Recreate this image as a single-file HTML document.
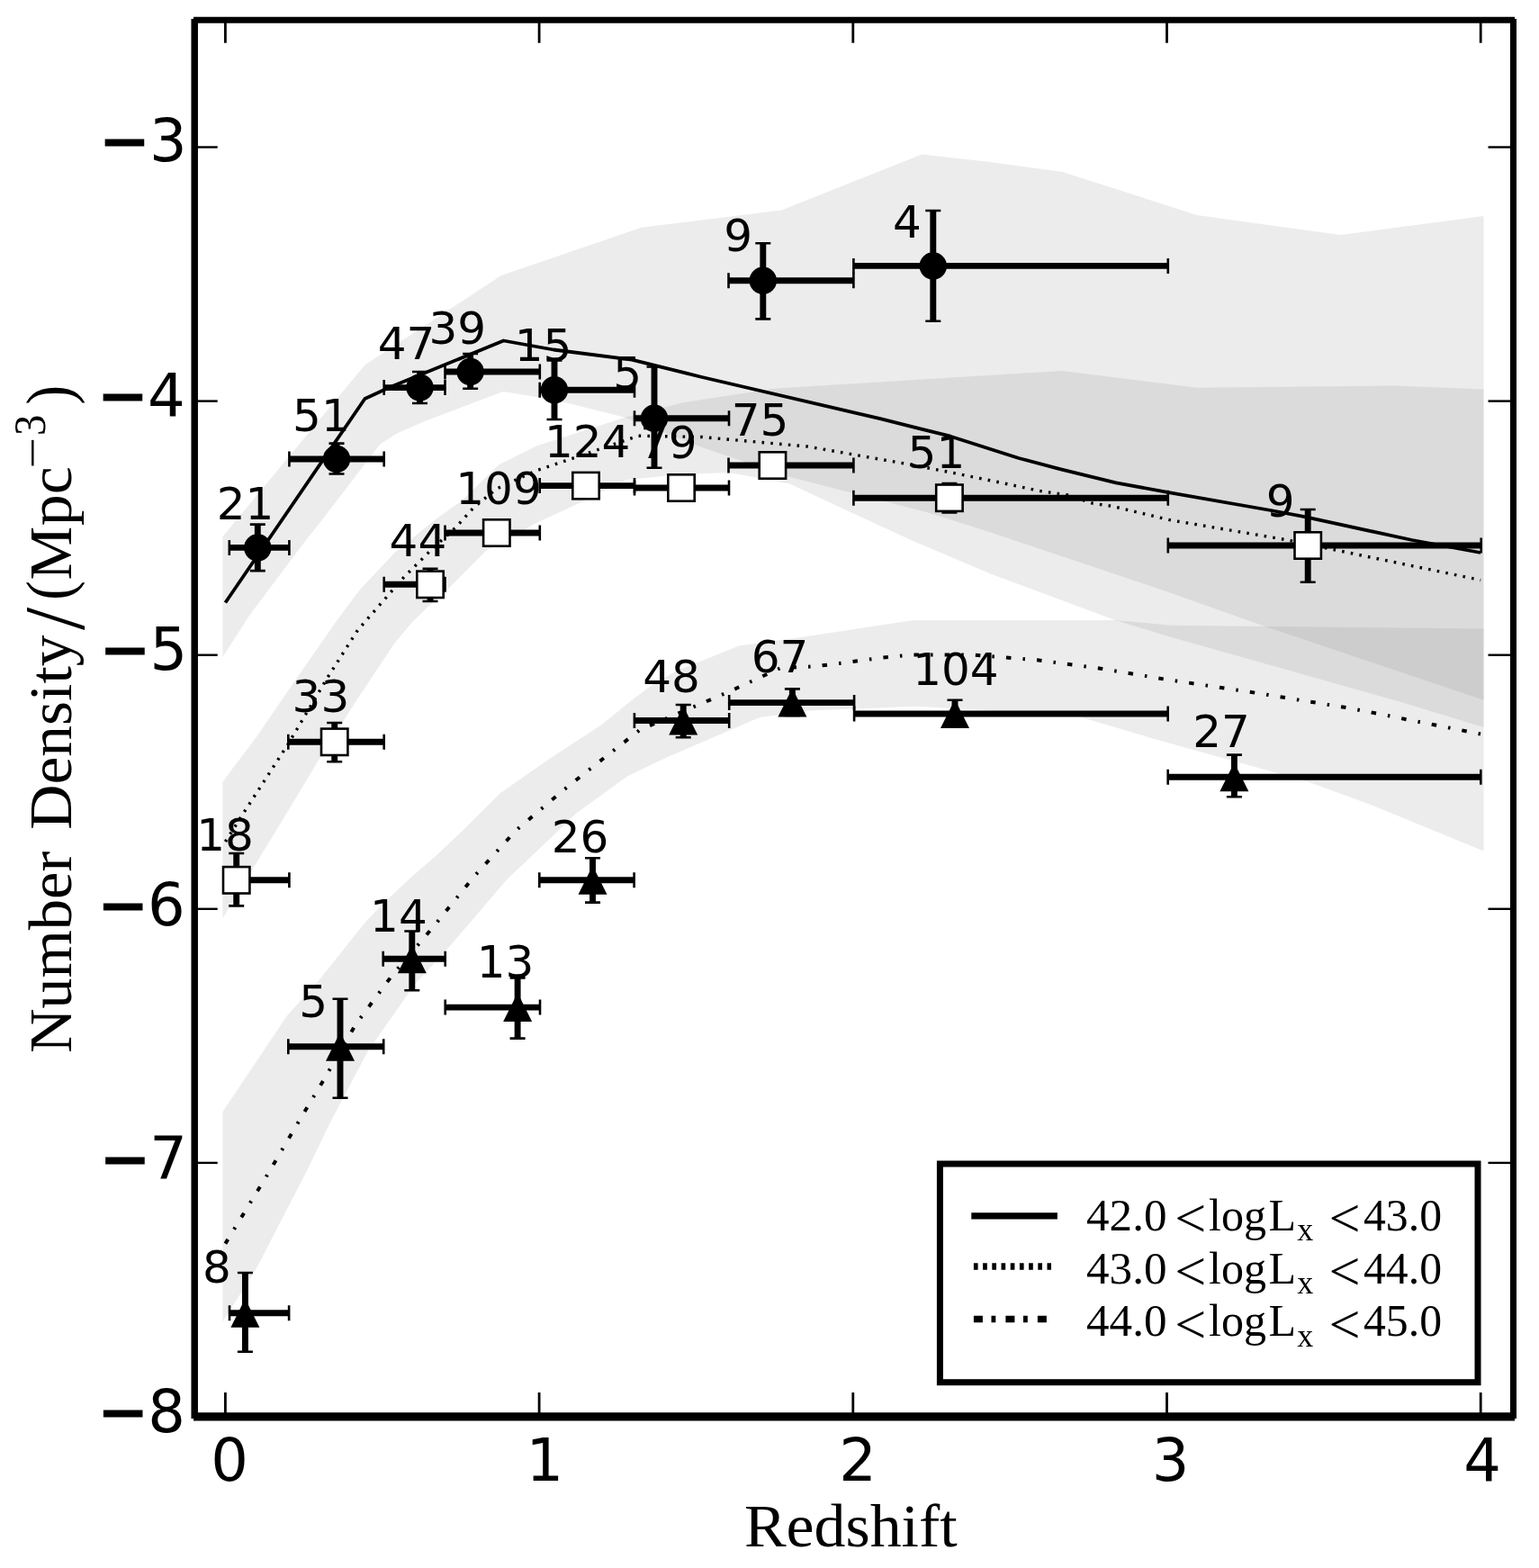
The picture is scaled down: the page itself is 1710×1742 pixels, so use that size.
<!DOCTYPE html>
<html><head><meta charset="utf-8"><title>Number density vs redshift</title>
<style>html,body{margin:0;padding:0;background:#fff;overflow:hidden;}svg{display:block;}</style></head>
<body><svg width="1710" height="1742" viewBox="0 0 1710 1742">
<rect width="1710" height="1742" fill="#fff"/>
<g fill="#808080" fill-opacity="0.15" stroke="none">
<polygon points="247.5,596.0 405.4,405.5 557.0,306.0 712.6,252.8 868.4,233.5 1024.2,171.6 1100.0,180.0 1180.4,191.0 1330.0,238.9 1489.2,261.1 1550.0,253.0 1648.5,240.0 1648.5,777.7 1405.0,695.8 1300.0,658.4 1100.0,591.3 1033.0,570.0 951.0,548.8 874.0,529.0 780.0,497.0 694.4,463.8 617.2,444.5 559.0,435.0 472.0,468.0 440.0,482.0 421.8,494.0 389.0,537.0 356.0,580.0 339.4,600.7 308.4,642.0 277.3,683.4 247.5,730.0"/>
<polygon points="247.5,868.4 284.8,819.0 329.6,753.4 374.3,689.3 400.0,655.0 439.3,613.2 484.2,576.7 512.3,557.0 554.4,516.3 596.5,495.3 640.0,481.2 694.4,463.8 760.0,447.0 862.0,431.6 1180.4,412.0 1330.0,430.7 1550.0,428.4 1648.5,432.6 1648.5,808.0 1557.0,780.0 1300.0,707.5 1239.2,688.9 1100.0,637.2 1012.3,600.0 951.0,571.7 877.0,537.3 810.0,525.0 760.0,526.8 694.4,533.3 645.6,557.9 596.5,580.7 540.4,611.5 498.2,653.9 480.0,669.9 459.0,690.0 438.5,714.6 396.7,777.3 353.0,846.0 320.6,900.0 247.5,1020.0"/>
<polygon points="247.5,1235.0 284.4,1180.0 318.9,1128.4 353.3,1090.5 393.5,1040.0 407.2,1023.1 428.0,1001.4 456.1,975.2 484.2,950.9 516.9,920.0 556.1,881.1 612.3,841.8 668.4,805.3 699.3,780.0 720.1,764.2 750.9,745.6 821.0,717.5 900.0,706.4 1000.0,691.2 1017.0,688.9 1239.2,688.9 1300.0,694.7 1648.5,698.6 1648.5,945.5 1525.6,895.0 1452.0,868.0 1280.0,820.2 1192.4,794.2 1017.0,784.8 900.0,789.5 844.0,797.0 740.0,841.8 696.5,862.8 640.4,903.5 581.4,960.0 563.9,976.3 493.7,1058.2 461.0,1093.3 430.0,1137.6 409.6,1166.3 368.0,1245.0 341.3,1300.0 285.2,1408.8 247.5,1468.4"/>
</g>
<g font-family="'DejaVu Sans', 'Liberation Sans', sans-serif" font-size="50" fill="#000">
<text x="240.8" y="577.1">21</text>
<text x="325.1" y="479.1">51</text>
<text x="419.7" y="398.9">47</text>
<text x="476.5" y="381.9">39</text>
<text x="571.7" y="401.0">15</text>
<text x="681.2" y="432.0">5</text>
<text x="804.2" y="279.4">9</text>
<text x="992.0" y="264.1">4</text>
<text x="218.2" y="944.9">18</text>
<text x="324.6" y="791.1">33</text>
<text x="432.6" y="618.2">44</text>
<text x="506.3" y="560.3">109</text>
<text x="605.0" y="508.4">124</text>
<text x="711.0" y="509.4">79</text>
<text x="812.8" y="484.1">75</text>
<text x="1008.6" y="519.8">51</text>
<text x="1406.8" y="574.0">9</text>
<text x="224.9" y="1424.6">8</text>
<text x="332.3" y="1129.5">5</text>
<text x="411.1" y="1034.8">14</text>
<text x="529.8" y="1086.1">13</text>
<text x="612.8" y="947.0">26</text>
<text x="714.2" y="769.3">48</text>
<text x="834.8" y="746.5">67</text>
<text x="1014.2" y="760.7">104</text>
<text x="1325.3" y="830.1">27</text>
</g>
<polyline points="250.4,669.5 405.4,443.0 432.5,430.6 559.5,378.5 615.0,388.5 702.0,399.7 780.0,419.0 980.0,465.7 1056.0,484.7 1132.0,509.0 1177.7,521.2 1240.0,536.4 1300.0,547.3 1412.0,567.0 1449.7,574.2 1569.0,600.0 1645.2,614.0" fill="none" stroke="#000" stroke-width="3.8" stroke-linejoin="round"/>
<polyline points="250.4,935.0 273.5,898.8 320.3,826.3 364.7,751.5 397.5,700.0 449.0,641.0 479.3,610.7 507.4,585.0 526.1,564.0 551.8,543.0 595.3,523.0 634.0,510.0 709.3,484.2 780.0,485.5 897.0,496.0 980.0,510.6 1010.4,515.9 1057.5,525.0 1106.2,535.0 1156.4,545.6 1186.8,550.0 1214.0,559.2 1235.4,562.3 1300.0,577.7 1431.0,600.0 1645.2,644.5" fill="none" stroke="#000" stroke-width="3.4" stroke-dasharray="2.6 7.2"/>
<polyline points="250.4,1381.6 297.5,1304.4 332.3,1245.3 360.4,1198.5 395.5,1137.7 436.4,1082.7 482.0,1029.0 526.5,974.0 573.3,922.5 627.0,877.0 655.1,854.7 710.8,811.0 809.0,768.9 867.5,742.0 904.7,740.4 940.0,736.1 977.2,731.0 1012.3,727.5 1080.0,727.5 1152.6,733.3 1222.8,742.7 1293.0,754.4 1395.5,769.8 1501.0,787.0 1645.2,815.5" fill="none" stroke="#000" stroke-width="4.0" stroke-dasharray="5.5 13.1 2.5 13.1"/>
<g stroke="#000" fill="none">
<path d="M254.8 608.4H321.4M286.3 582.6V634.1" stroke-width="6.9"/>
<path d="M254.8 599.9V616.9M321.4 599.9V616.9M277.8 582.6H294.8M277.8 634.1H294.8" stroke-width="2.6"/>
<path d="M321.4 510.0H426.7M374.0 492.6V526.5" stroke-width="6.9"/>
<path d="M321.4 501.5V518.5M426.7 501.5V518.5M365.5 492.6H382.5M365.5 526.5H382.5" stroke-width="2.6"/>
<path d="M426.7 430.6H494.5M466.5 413.0V448.0" stroke-width="6.9"/>
<path d="M426.7 422.1V439.1M494.5 422.1V439.1M458.0 413.0H475.0M458.0 448.0H475.0" stroke-width="2.6"/>
<path d="M494.5 413.0H599.8M522.6 393.0V431.8" stroke-width="6.9"/>
<path d="M494.5 404.5V421.5M599.8 404.5V421.5M514.1 393.0H531.1M514.1 431.8H531.1" stroke-width="2.6"/>
<path d="M599.7 433.2H705.0M616.0 400.5V466.0" stroke-width="6.9"/>
<path d="M599.7 424.7V441.7M705.0 424.7V441.7M607.5 400.5H624.5M607.5 466.0H624.5" stroke-width="2.6"/>
<path d="M705.0 464.8H810.0M727.0 407.5V519.8" stroke-width="6.9"/>
<path d="M705.0 456.3V473.3M810.0 456.3V473.3M718.5 407.5H735.5M718.5 519.8H735.5" stroke-width="2.6"/>
<path d="M809.5 311.8H948.4M847.8 270.2V354.4" stroke-width="6.9"/>
<path d="M809.5 303.3V320.3M948.4 303.3V320.3M839.3 270.2H856.3M839.3 354.4H856.3" stroke-width="2.6"/>
<path d="M948.4 295.4H1297.8M1036.8 234.0V356.7" stroke-width="6.9"/>
<path d="M948.4 286.9V303.9M1297.8 286.9V303.9M1028.3 234.0H1045.3M1028.3 356.7H1045.3" stroke-width="2.6"/>
<path d="M250.4 977.8H321.4M262.7 948.0V1006.4" stroke-width="6.9"/>
<path d="M250.4 969.3V986.3M321.4 969.3V986.3M254.2 948.0H271.2M254.2 1006.4H271.2" stroke-width="2.6"/>
<path d="M320.3 824.3H426.7M371.7 803.0V846.2" stroke-width="6.9"/>
<path d="M320.3 815.8V832.8M426.7 815.8V832.8M363.2 803.0H380.2M363.2 846.2H380.2" stroke-width="2.6"/>
<path d="M426.7 649.3H494.5M478.0 631.8V668.0" stroke-width="6.9"/>
<path d="M426.7 640.8V657.8M494.5 640.8V657.8M469.5 631.8H486.5M469.5 668.0H486.5" stroke-width="2.6"/>
<path d="M494.5 592.0H599.8M551.8 580.0V604.0" stroke-width="6.9"/>
<path d="M494.5 583.5V600.5M599.8 583.5V600.5M543.3 580.0H560.3M543.3 604.0H560.3" stroke-width="2.6"/>
<path d="M599.7 539.6H705.0M651.0 528.0V551.0" stroke-width="6.9"/>
<path d="M599.7 531.1V548.1M705.0 531.1V548.1M642.5 528.0H659.5M642.5 551.0H659.5" stroke-width="2.6"/>
<path d="M705.0 542.0H810.0M757.0 530.0V554.0" stroke-width="6.9"/>
<path d="M705.0 533.5V550.5M810.0 533.5V550.5M748.5 530.0H765.5M748.5 554.0H765.5" stroke-width="2.6"/>
<path d="M809.5 517.0H948.4M858.4 505.0V529.0" stroke-width="6.9"/>
<path d="M809.5 508.5V525.5M948.4 508.5V525.5M849.9 505.0H866.9M849.9 529.0H866.9" stroke-width="2.6"/>
<path d="M948.4 553.2H1297.8M1054.9 537.0V569.5" stroke-width="6.9"/>
<path d="M948.4 544.7V561.7M1297.8 544.7V561.7M1046.4 537.0H1063.4M1046.4 569.5H1063.4" stroke-width="2.6"/>
<path d="M1297.8 606.0H1645.7M1453.2 566.0V646.7" stroke-width="6.9"/>
<path d="M1297.8 597.5V614.5M1645.7 597.5V614.5M1444.7 566.0H1461.7M1444.7 646.7H1461.7" stroke-width="2.6"/>
<path d="M255.0 1458.8H321.1M272.4 1414.0V1501.8" stroke-width="6.9"/>
<path d="M255.0 1450.3V1467.3M321.1 1450.3V1467.3M263.9 1414.0H280.9M263.9 1501.8H280.9" stroke-width="2.6"/>
<path d="M320.3 1162.8H426.2M378.0 1109.8V1219.8" stroke-width="6.9"/>
<path d="M320.3 1154.3V1171.3M426.2 1154.3V1171.3M369.5 1109.8H386.5M369.5 1219.8H386.5" stroke-width="2.6"/>
<path d="M425.7 1065.3H494.7M457.8 1034.5V1100.2" stroke-width="6.9"/>
<path d="M425.7 1056.8V1073.8M494.7 1056.8V1073.8M449.3 1034.5H466.3M449.3 1100.2H466.3" stroke-width="2.6"/>
<path d="M494.7 1119.1H600.0M575.1 1086.4V1153.6" stroke-width="6.9"/>
<path d="M494.7 1110.6V1127.6M600.0 1110.6V1127.6M566.6 1086.4H583.6M566.6 1153.6H583.6" stroke-width="2.6"/>
<path d="M599.3 977.8H704.6M658.5 953.3V1002.6" stroke-width="6.9"/>
<path d="M599.3 969.3V986.3M704.6 969.3V986.3M650.0 953.3H667.0M650.0 1002.6H667.0" stroke-width="2.6"/>
<path d="M704.9 800.5H810.2M759.2 783.0V819.2" stroke-width="6.9"/>
<path d="M704.9 792.0V809.0M810.2 792.0V809.0M750.7 783.0H767.7M750.7 819.2H767.7" stroke-width="2.6"/>
<path d="M810.2 780.6H949.1M880.4 765.4V795.0" stroke-width="6.9"/>
<path d="M810.2 772.1V789.1M949.1 772.1V789.1M871.9 765.4H888.9M871.9 795.0H888.9" stroke-width="2.6"/>
<path d="M949.1 793.0H1297.7M1061.0 777.8V806.0" stroke-width="6.9"/>
<path d="M949.1 784.5V801.5M1297.7 784.5V801.5M1052.5 777.8H1069.5M1052.5 806.0H1069.5" stroke-width="2.6"/>
<path d="M1297.7 863.2H1645.3M1371.4 838.6V885.3" stroke-width="6.9"/>
<path d="M1297.7 854.7V871.7M1645.3 854.7V871.7M1362.9 838.6H1379.9M1362.9 885.3H1379.9" stroke-width="2.6"/>
</g>
<circle cx="286.3" cy="608.4" r="15.2" fill="#000"/>
<circle cx="374.0" cy="510.0" r="15.2" fill="#000"/>
<circle cx="466.5" cy="430.6" r="15.2" fill="#000"/>
<circle cx="522.6" cy="413.0" r="15.2" fill="#000"/>
<circle cx="616.0" cy="433.2" r="15.2" fill="#000"/>
<circle cx="727.0" cy="464.8" r="15.2" fill="#000"/>
<circle cx="847.8" cy="311.8" r="15.2" fill="#000"/>
<circle cx="1036.8" cy="295.4" r="15.2" fill="#000"/>
<rect x="248.0" y="963.1" width="29.4" height="29.4" fill="#fff" stroke="#000" stroke-width="2.6"/>
<rect x="357.0" y="809.6" width="29.4" height="29.4" fill="#fff" stroke="#000" stroke-width="2.6"/>
<rect x="463.3" y="634.6" width="29.4" height="29.4" fill="#fff" stroke="#000" stroke-width="2.6"/>
<rect x="537.1" y="577.3" width="29.4" height="29.4" fill="#fff" stroke="#000" stroke-width="2.6"/>
<rect x="636.3" y="524.9" width="29.4" height="29.4" fill="#fff" stroke="#000" stroke-width="2.6"/>
<rect x="742.3" y="527.3" width="29.4" height="29.4" fill="#fff" stroke="#000" stroke-width="2.6"/>
<rect x="843.7" y="502.3" width="29.4" height="29.4" fill="#fff" stroke="#000" stroke-width="2.6"/>
<rect x="1040.2" y="538.5" width="29.4" height="29.4" fill="#fff" stroke="#000" stroke-width="2.6"/>
<rect x="1438.5" y="591.3" width="29.4" height="29.4" fill="#fff" stroke="#000" stroke-width="2.6"/>
<polygon points="272.4,1442.8 256.4,1474.8 288.4,1474.8" fill="#000"/>
<polygon points="378.0,1146.8 362.0,1178.8 394.0,1178.8" fill="#000"/>
<polygon points="457.8,1049.3 441.8,1081.3 473.8,1081.3" fill="#000"/>
<polygon points="575.1,1103.1 559.1,1135.1 591.1,1135.1" fill="#000"/>
<polygon points="658.5,961.8 642.5,993.8 674.5,993.8" fill="#000"/>
<polygon points="759.2,784.5 743.2,816.5 775.2,816.5" fill="#000"/>
<polygon points="880.4,764.6 864.4,796.6 896.4,796.6" fill="#000"/>
<polygon points="1061.0,777.0 1045.0,809.0 1077.0,809.0" fill="#000"/>
<polygon points="1371.4,847.2 1355.4,879.2 1387.4,879.2" fill="#000"/>
<g stroke="#000" fill="none" stroke-linecap="butt">
<line x1="216.2" y1="21" x2="216.2" y2="1576" stroke-width="7.5"/>
<line x1="215" y1="22.2" x2="1683" y2="22.2" stroke-width="7"/>
<line x1="1681.5" y1="21" x2="1681.5" y2="1576" stroke-width="7"/>
<line x1="215" y1="1573.9" x2="1683" y2="1573.9" stroke-width="9.4"/>
<line x1="250.4" y1="22" x2="250.4" y2="47.7" stroke-width="2.8"/>
<line x1="250.4" y1="1574" x2="250.4" y2="1547" stroke-width="2.8"/>
<line x1="599.1" y1="22" x2="599.1" y2="47.7" stroke-width="2.8"/>
<line x1="599.1" y1="1574" x2="599.1" y2="1547" stroke-width="2.8"/>
<line x1="947.8" y1="22" x2="947.8" y2="47.7" stroke-width="2.8"/>
<line x1="947.8" y1="1574" x2="947.8" y2="1547" stroke-width="2.8"/>
<line x1="1296.5" y1="22" x2="1296.5" y2="47.7" stroke-width="2.8"/>
<line x1="1296.5" y1="1574" x2="1296.5" y2="1547" stroke-width="2.8"/>
<line x1="1645.2" y1="22" x2="1645.2" y2="47.7" stroke-width="2.8"/>
<line x1="1645.2" y1="1574" x2="1645.2" y2="1547" stroke-width="2.8"/>
<line x1="216" y1="163.5" x2="241.7" y2="163.5" stroke-width="2.4"/>
<line x1="1681.5" y1="163.5" x2="1653.5" y2="163.5" stroke-width="2.4"/>
<line x1="216" y1="445.6" x2="241.7" y2="445.6" stroke-width="2.4"/>
<line x1="1681.5" y1="445.6" x2="1653.5" y2="445.6" stroke-width="2.4"/>
<line x1="216" y1="727.7" x2="241.7" y2="727.7" stroke-width="2.4"/>
<line x1="1681.5" y1="727.7" x2="1653.5" y2="727.7" stroke-width="2.4"/>
<line x1="216" y1="1009.8" x2="241.7" y2="1009.8" stroke-width="2.4"/>
<line x1="1681.5" y1="1009.8" x2="1653.5" y2="1009.8" stroke-width="2.4"/>
<line x1="216" y1="1291.9" x2="241.7" y2="1291.9" stroke-width="2.4"/>
<line x1="1681.5" y1="1291.9" x2="1653.5" y2="1291.9" stroke-width="2.4"/>
</g>
<g font-family="'DejaVu Sans', 'Liberation Sans', sans-serif" font-size="65.5" fill="#000">
<text x="255.1" y="1644.6" text-anchor="middle">0</text>
<text x="605.3" y="1644.6" text-anchor="middle">1</text>
<text x="953.0" y="1644.6" text-anchor="middle">2</text>
<text x="1300.7" y="1644.6" text-anchor="middle">3</text>
<text x="1647.2" y="1644.6" text-anchor="middle">4</text>
<text x="207.7" y="178.9" text-anchor="end"><tspan stroke="#000" stroke-width="2.6">&#8722;</tspan>3</text>
<text x="205.6" y="462.2" text-anchor="end"><tspan stroke="#000" stroke-width="2.6">&#8722;</tspan>4</text>
<text x="208.2" y="744.2" text-anchor="end"><tspan stroke="#000" stroke-width="2.6">&#8722;</tspan>5</text>
<text x="205.8" y="1027.9" text-anchor="end"><tspan stroke="#000" stroke-width="2.6">&#8722;</tspan>6</text>
<text x="208" y="1310.3" text-anchor="end"><tspan stroke="#000" stroke-width="2.6">&#8722;</tspan>7</text>
<text x="205.9" y="1591.2" text-anchor="end"><tspan stroke="#000" stroke-width="2.6">&#8722;</tspan>8</text>
</g>
<text x="826.9" y="1717.7" font-family="'Liberation Serif', 'DejaVu Serif', serif" font-size="68.5" textLength="236.8" lengthAdjust="spacingAndGlyphs">Redshift</text>
<g transform="translate(78.5,1168) rotate(-90)" font-family="'Liberation Serif', 'DejaVu Serif', serif" font-size="66" fill="#000">
<text x="-2.1" y="0" font-size="68.5" textLength="224.4" lengthAdjust="spacingAndGlyphs">Number</text>
<text x="246.2" y="0" font-size="68.5" textLength="216.3" lengthAdjust="spacingAndGlyphs">Density</text>
<text x="468" y="14.4" font-size="95.6" textLength="25.2" lengthAdjust="spacingAndGlyphs">/</text>
<text x="501.3" y="0.8" font-size="72.7" textLength="21.5" lengthAdjust="spacingAndGlyphs">(</text>
<text x="523.4" y="0" font-size="68.5" textLength="59.8" lengthAdjust="spacingAndGlyphs">M</text>
<text x="583.7" y="0" font-size="68.5" textLength="66" lengthAdjust="spacingAndGlyphs">pc</text>
<text x="647.2" y="-25.3" font-size="50" textLength="34.7" lengthAdjust="spacingAndGlyphs">&#8722;</text>
<text x="684" y="-28.7" font-size="50" textLength="23.2" lengthAdjust="spacingAndGlyphs">3</text>
<text x="718.6" y="0.9" font-size="72" textLength="21.5" lengthAdjust="spacingAndGlyphs">)</text>
</g>
<rect x="1044.4" y="1293" width="597.6" height="242.7" fill="#fff" stroke="#000" stroke-width="7"/>
<line x1="1079.3" y1="1350.9" x2="1174.9" y2="1350.9" stroke="#000" stroke-width="7.4"/>
<line x1="1081.9" y1="1407" x2="1168" y2="1407" stroke="#000" stroke-width="7.4" stroke-dasharray="4.7 5.5"/>
<line x1="1081.9" y1="1465.5" x2="1168" y2="1465.5" stroke="#000" stroke-width="7.4" stroke-dasharray="10 9.6 4.8 11.1"/>
<g font-family="'Liberation Serif', 'DejaVu Serif', serif" font-size="50" fill="#000">
<text x="1207" y="1366.6" textLength="89.5" lengthAdjust="spacingAndGlyphs">42.0</text>
<text x="1305.3" y="1374.1" font-size="62">&lt;</text>
<text x="1343" y="1366.6">log</text>
<text x="1409.4" y="1366.6">L</text>
<text x="1441.3" y="1378.0" font-size="36">x</text>
<text x="1476.5" y="1374.1" font-size="62">&lt;</text>
<text x="1515" y="1366.6" textLength="87" lengthAdjust="spacingAndGlyphs">43.0</text>
<text x="1207" y="1425.7" textLength="89.5" lengthAdjust="spacingAndGlyphs">43.0</text>
<text x="1305.3" y="1433.2" font-size="62">&lt;</text>
<text x="1343" y="1425.7">log</text>
<text x="1409.4" y="1425.7">L</text>
<text x="1441.3" y="1437.1" font-size="36">x</text>
<text x="1476.5" y="1433.2" font-size="62">&lt;</text>
<text x="1515" y="1425.7" textLength="87" lengthAdjust="spacingAndGlyphs">44.0</text>
<text x="1207" y="1484.3" textLength="89.5" lengthAdjust="spacingAndGlyphs">44.0</text>
<text x="1305.3" y="1491.8" font-size="62">&lt;</text>
<text x="1343" y="1484.3">log</text>
<text x="1409.4" y="1484.3">L</text>
<text x="1441.3" y="1495.7" font-size="36">x</text>
<text x="1476.5" y="1491.8" font-size="62">&lt;</text>
<text x="1515" y="1484.3" textLength="87" lengthAdjust="spacingAndGlyphs">45.0</text>
</g>
</svg></body></html>
